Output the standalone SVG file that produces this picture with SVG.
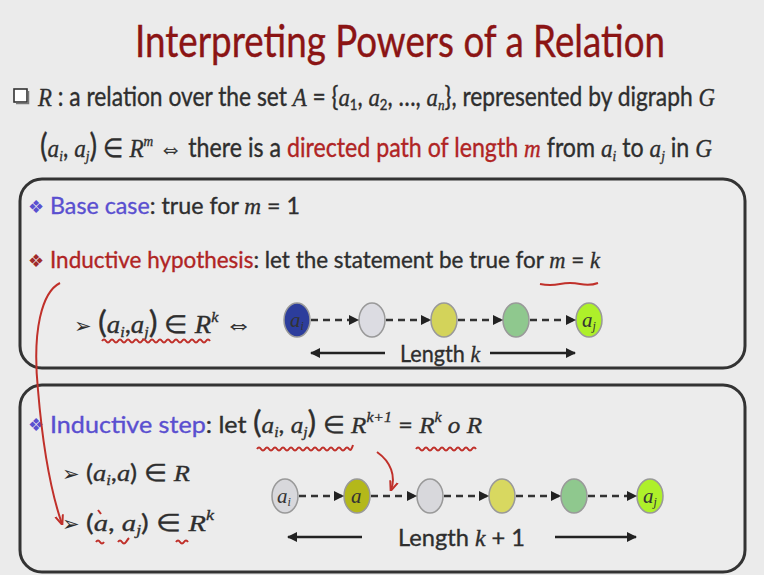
<svg xmlns="http://www.w3.org/2000/svg" width="764" height="575" viewBox="0 0 764 575">
<defs>
<style>
.t{font-family:Lato,"Open Sans","Liberation Sans",sans-serif;fill:#2e2e2e;stroke:#2e2e2e;stroke-width:0.35;}
.m{font-family:"Liberation Serif",serif;font-style:italic;}
.sub{font-size:15px;}
.pu{fill:#5a4fd0;stroke:#5a4fd0;}
.rd{fill:#b02424;stroke:#b02424;}
.box{fill:#ececec;stroke:#333;stroke-width:3;}
.dash{stroke:#333;stroke-width:2.5;stroke-dasharray:7 5;fill:none;}
.lenarr{stroke:#222;stroke-width:2.5;fill:none;}
.red{stroke:#c0302a;stroke-width:2;fill:none;}
.node{stroke:#999;stroke-width:1.5;}
.nl{font-family:"Liberation Serif",serif;font-style:italic;font-size:21px;fill:#333;}
.bul{font-family:"DejaVu Sans",sans-serif;font-size:18px;}
.arr{font-family:"DejaVu Sans",sans-serif;font-size:21px;fill:#2e2e2e;}
</style>
<marker id="ah" viewBox="0 0 10 10" refX="9" refY="5" markerWidth="4" markerHeight="4" orient="auto">
<path d="M0,0 L10,5 L0,10 z" fill="#222"/>
</marker>
<marker id="rah" viewBox="0 0 10 10" refX="9" refY="5" markerWidth="5" markerHeight="5" orient="auto">
<path d="M0,1 L10,5 L0,9" fill="none" stroke="#c0302a" stroke-width="2"/>
</marker>
</defs>
<rect width="764" height="575" fill="#ebebeb"/>
<text x="135" y="57" class="t" font-size="44" style="fill:#8b1414;stroke:#8b1414;stroke-width:0.4" textLength="530" lengthAdjust="spacingAndGlyphs">Interpreting Powers of a Relation</text>
<rect x="14" y="89" width="13" height="13" fill="#fff" stroke="#333" stroke-width="1.6"/>
<path d="M16,103.5 H28.5 V91" stroke="#777" stroke-width="1.5" fill="none"/>
<text x="38" y="106" class="t" font-size="26" textLength="677" lengthAdjust="spacingAndGlyphs"><tspan class="m">R</tspan> : a relation over the set <tspan class="m">A</tspan> = {<tspan class="m">a</tspan><tspan class="sub" dy="4">1</tspan><tspan dy="-4">, </tspan><tspan class="m">a</tspan><tspan class="sub" dy="4">2</tspan><tspan dy="-4">, …, </tspan><tspan class="m">a</tspan><tspan class="sub m" dy="4">n</tspan><tspan dy="-4">}, represented by digraph </tspan><tspan class="m">G</tspan></text>
<text x="40" y="157" class="t" font-size="26" textLength="672" lengthAdjust="spacingAndGlyphs"><tspan font-size="32">(</tspan><tspan class="m">a</tspan><tspan class="sub m" dy="4">i</tspan><tspan dy="-4">, </tspan><tspan class="m">a</tspan><tspan class="sub m" dy="4">j</tspan><tspan dy="-4" font-size="32">)</tspan> ∈ <tspan class="m">R</tspan><tspan class="sub m" dy="-11">m</tspan><tspan dy="11">  ⇔ there is a </tspan><tspan class="rd">directed path of length </tspan><tspan class="m rd">m</tspan> from <tspan class="m">a</tspan><tspan class="sub m" dy="4">i</tspan><tspan dy="-4"> to </tspan><tspan class="m">a</tspan><tspan class="sub m" dy="4">j</tspan><tspan dy="-4"> in </tspan><tspan class="m">G</tspan></text>
<g id="box1">
<rect class="box" x="20" y="179" width="725" height="189" rx="22"/>
<text x="28" y="213" class="bul" fill="#5a4fd0">❖</text>
<text x="50" y="214" class="t" font-size="24" textLength="250" lengthAdjust="spacingAndGlyphs"><tspan class="pu">Base case</tspan>: true for <tspan class="m">m</tspan> = 1</text>
<text x="28" y="267" class="bul" fill="#a02a2a">❖</text>
<text x="50" y="268" class="t" font-size="24" textLength="550" lengthAdjust="spacingAndGlyphs"><tspan class="rd">Inductive hypothesis</tspan>: let the statement be true for <tspan class="m">m</tspan> = <tspan class="m">k</tspan></text>
<text x="74" y="333" class="arr">➢</text>
<text x="98" y="333" class="t" font-size="25" textLength="154" lengthAdjust="spacingAndGlyphs"><tspan font-size="31">(</tspan><tspan class="m">a</tspan><tspan class="sub m" dy="4">i</tspan><tspan dy="-4">,</tspan><tspan class="m">a</tspan><tspan class="sub m" dy="4">j</tspan><tspan dy="-4" font-size="31">)</tspan> ∈ <tspan class="m">R</tspan><tspan class="sub m" dy="-11">k</tspan><tspan dy="11">  ⇔</tspan></text>
</g>
<g id="box2">
<rect class="box" x="20" y="385" width="725" height="187" rx="22"/>
<text x="28" y="431" class="bul" fill="#5a4fd0">❖</text>
<text x="50" y="433" class="t" font-size="24" textLength="432" lengthAdjust="spacingAndGlyphs"><tspan class="pu">Inductive step</tspan>: let <tspan font-size="31">(</tspan><tspan class="m">a</tspan><tspan class="sub m" dy="4">i</tspan><tspan dy="-4">, </tspan><tspan class="m">a</tspan><tspan class="sub m" dy="4">j</tspan><tspan dy="-4" font-size="31">)</tspan> ∈ <tspan class="m">R</tspan><tspan class="sub m" dy="-11">k+1</tspan><tspan dy="11"> = </tspan><tspan class="m">R</tspan><tspan class="sub m" dy="-11">k</tspan><tspan dy="11" class="m"> o R</tspan></text>
<text x="62" y="481" class="arr">➢</text>
<text x="86" y="481" class="t" font-size="24" textLength="104" lengthAdjust="spacingAndGlyphs">(<tspan class="m">a</tspan><tspan class="sub m" dy="4">i</tspan><tspan dy="-4">,</tspan><tspan class="m">a</tspan>) ∈ <tspan class="m">R</tspan></text>
<text x="62" y="531" class="arr">➢</text>
<text x="86" y="531" class="t" font-size="24" textLength="128" lengthAdjust="spacingAndGlyphs">(<tspan class="m">a</tspan>, <tspan class="m">a</tspan><tspan class="sub m" dy="4">j</tspan><tspan dy="-4">) ∈ </tspan><tspan class="m">R</tspan><tspan class="sub m" dy="-11">k</tspan></text>
</g>
<g id="n1a"><ellipse cx="297" cy="320" rx="13" ry="17" fill="#2c3d9c" class="node"/><text x="290" y="327" class="nl">a<tspan font-size="12" dy="3">i</tspan></text></g>
<g id="n1b"><ellipse cx="372" cy="320" rx="13" ry="17" fill="#dcdce2" class="node"/></g>
<g id="n1c"><ellipse cx="444" cy="320" rx="13" ry="17" fill="#d3d35a" class="node"/></g>
<g id="n1d"><ellipse cx="516" cy="320" rx="13" ry="17" fill="#8fc88e" class="node"/></g>
<g id="n1e"><ellipse cx="589" cy="320" rx="13" ry="17" fill="#aef02a" class="node"/><text x="582" y="327" class="nl">a<tspan font-size="12" dy="3">j</tspan></text></g>
<g id="n2a"><ellipse cx="285" cy="496" rx="13" ry="17" fill="#d8d8dc" class="node"/><text x="277" y="503" class="nl">a<tspan font-size="12" dy="3">i</tspan></text></g>
<g id="n2b"><ellipse cx="357" cy="496" rx="13" ry="17" fill="#b4b81a" class="node"/><text x="351" y="503" class="nl">a</text></g>
<g id="n2c"><ellipse cx="430" cy="496" rx="13" ry="17" fill="#d8d8dc" class="node"/></g>
<g id="n2d"><ellipse cx="502" cy="496" rx="13" ry="17" fill="#d8d860" class="node"/></g>
<g id="n2e"><ellipse cx="574" cy="496" rx="13" ry="17" fill="#8fc88e" class="node"/></g>
<g id="n2f"><ellipse cx="650" cy="496" rx="13" ry="17" fill="#aef02a" class="node"/><text x="643" y="503" class="nl">a<tspan font-size="12" dy="3">j</tspan></text></g>
<g id="connectors">
<path class="dash" d="M311,320 H358" marker-end="url(#ah)"/>
<path class="dash" d="M386,320 H430" marker-end="url(#ah)"/>
<path class="dash" d="M458,320 H502" marker-end="url(#ah)"/>
<path class="dash" d="M530,320 H575" marker-end="url(#ah)"/>
<path class="dash" d="M299,496 H343" marker-end="url(#ah)"/>
<path class="dash" d="M371,496 H416" marker-end="url(#ah)"/>
<path class="dash" d="M444,496 H488" marker-end="url(#ah)"/>
<path class="dash" d="M516,496 H560" marker-end="url(#ah)"/>
<path class="dash" d="M588,496 H636" marker-end="url(#ah)"/>
<path class="lenarr" d="M385,353 H311" marker-end="url(#ah)"/>
<path class="lenarr" d="M490,353 H575" marker-end="url(#ah)"/>
<path class="lenarr" d="M362,537 H288" marker-end="url(#ah)"/>
<path class="lenarr" d="M555,537 H636" marker-end="url(#ah)"/>
</g>
<text x="400" y="362" class="t" font-size="24" textLength="80" lengthAdjust="spacingAndGlyphs">Length <tspan class="m">k</tspan></text>
<text x="398" y="546" class="t" font-size="24" textLength="127" lengthAdjust="spacingAndGlyphs">Length <tspan class="m">k</tspan> + 1</text>
<g id="annotations">
<path class="red" d="M60,283 C42,292 32,330 38,390 C43,450 52,495 62,524" marker-end="url(#rah)"/>
<path class="red" d="M102,341 q2,-3 4,0 t4,0 t4,0 t4,0 t4,0 t4,0 t4,0 t4,0 t4,0 t4,0 t4,0 t4,0 t4,0 t4,0 t4,0 t4,0 t4,0 t4,0 t4,0 t4,0 t4,0 t4,0 t4,0 t4,0 t4,0 t4,0 t4,0"/>
<path class="red" d="M540,284 q10,2 20,0 t20,0 t18,-1"/>
<path class="red" d="M257,449 q2,-3 4,0 t4,0 t4,0 t4,0 t4,0 t4,0 t4,0 t4,0 t4,0 t4,0 t4,0 t4,0 t4,0 t4,0 t4,0 t4,0 t4,0 t4,0 t4,0 t4,0 t4,0 t4,0 t4,0 t4,-4"/>
<path class="red" d="M416,449 q2,-3 4,0 t4,0 t4,0 t4,0 t4,0 t4,0 t4,0 t4,0 t4,0 t4,0 t4,0 t4,0 t4,0 t4,0 t4,0"/>
<path class="red" d="M377,452 C391,462 396,476 391,490" marker-end="url(#rah)"/>
<path class="red" d="M96,542 q2,-3 4,0 t4,0"/>
<path class="red" d="M98,510 l3,4"/>
<path class="red" d="M118,542 q2,-3 4,0 t4,0 t3,-4"/>
<path class="red" d="M176,542 q2,-3 4,0 t4,0 t4,0"/>
</g>
</svg>
